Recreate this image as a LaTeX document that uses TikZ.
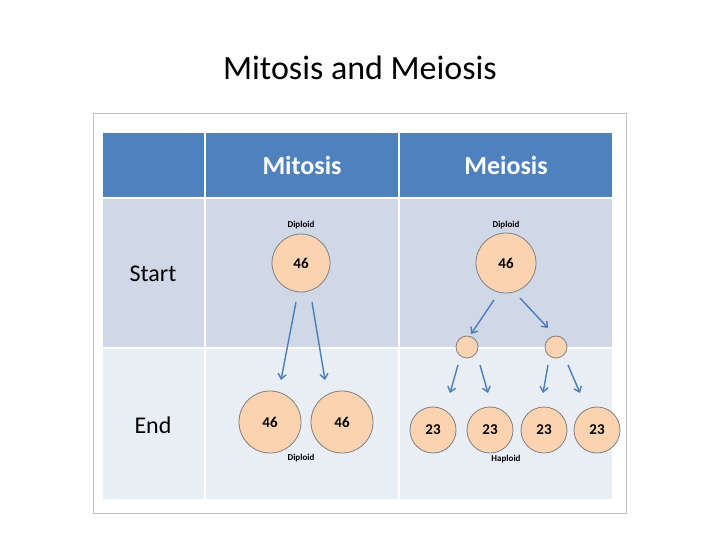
\documentclass[tikz,border=0pt]{standalone}
\usepackage{fontspec}
\setmainfont{Carlito}
\usetikzlibrary{arrows.meta}
\definecolor{hdrblue}{HTML}{4F81BD}
\definecolor{rowa}{HTML}{D0D8E8}
\definecolor{rowb}{HTML}{E9EDF4}
\definecolor{cellfill}{HTML}{FBD3B0}
\definecolor{arrblue}{HTML}{4A7EBB}
\tikzset{
  cell/.style={circle, draw=black!50, thick, fill=cellfill, inner sep=0pt, font=\bfseries\fontsize{15}{15}\selectfont},
  tag/.style={font=\bfseries\fontsize{9}{9}\selectfont},
  split/.style={->, arrblue, line width=1.4pt, >={Straight Barb[length=5pt,width=8pt]}}
}
\begin{document}
\begin{tikzpicture}[x=1pt,y=-1pt]
\useasboundingbox (0,0) rectangle (720,540);
%Title
\node (title) at (360,68) {\fontsize{34}{34}\selectfont Mitosis and Meiosis};
%Table
\draw[black!25] (93,113) rectangle (626,513);
\fill[hdrblue] (103,133) rectangle (612,198);
\fill[rowa] (103,198) rectangle (612,348);
\fill[rowb] (103,348) rectangle (612,499);
\draw[white, line width=1.5pt] (205,133) -- (205,499) (399,133) -- (399,499) (103,198) -- (612,198) (103,348) -- (612,348);
\node (hmit) [text=white, font=\bfseries\fontsize{26}{26}\selectfont] at (302,165) {Mitosis};
\node (hmei) [text=white, font=\bfseries\fontsize{26}{26}\selectfont] at (506,165) {Meiosis};
\node (start) [font=\fontsize{24}{24}\selectfont] at (153,274) {Start};
\node (end) [font=\fontsize{24}{24}\selectfont] at (153,425) {End};
%Mitosis
\node (m0) [cell, minimum size=58pt] at (301,263) {46};
\node (md) [tag] at (301,225) {Diploid};
\node (m1) [cell, minimum size=62pt] at (270,422) {46};
\node (m2) [cell, minimum size=62pt] at (342,422) {46};
\node (mde) [tag] at (301,458) {Diploid};
\coordinate (ma) at (296,302); \coordinate (mb) at (312,302);
\coordinate (mc) at (281,380); \coordinate (me) at (325,380);
\draw [split] (ma) -- (mc);
\draw [split] (mb) -- (me);
%Meiosis
\node (e0) [cell, minimum size=60pt] at (506,263) {46};
\node (ed) [tag] at (506,225) {Diploid};
\node (s1) [cell, minimum size=22pt] at (467,347) {};
\node (s2) [cell, minimum size=22pt] at (556,347) {};
\node (h1) [cell, minimum size=46pt] at (433,430) {23};
\node (h2) [cell, minimum size=46pt] at (490,430) {23};
\node (h3) [cell, minimum size=46pt] at (544,430) {23};
\node (h4) [cell, minimum size=46pt] at (597,430) {23};
\node (eh) [tag] at (506,459) {Haploid};
\coordinate (ea) at (494,300); \coordinate (eb) at (520,298);
\coordinate (ec) at (471,334); \coordinate (ee) at (548,328);
\draw [split] (ea) -- (ec);
\draw [split] (eb) -- (ee);
\coordinate (sa) at (458,365); \coordinate (sb) at (480,365);
\coordinate (sc) at (548,365); \coordinate (sd) at (568,365);
\coordinate (ta) at (450,393); \coordinate (tb) at (488,393);
\coordinate (tc) at (543,393); \coordinate (td) at (580,393);
\draw [split] (sa) -- (ta);
\draw [split] (sb) -- (tb);
\draw [split] (sc) -- (tc);
\draw [split] (sd) -- (td);
\end{tikzpicture}
\end{document}
